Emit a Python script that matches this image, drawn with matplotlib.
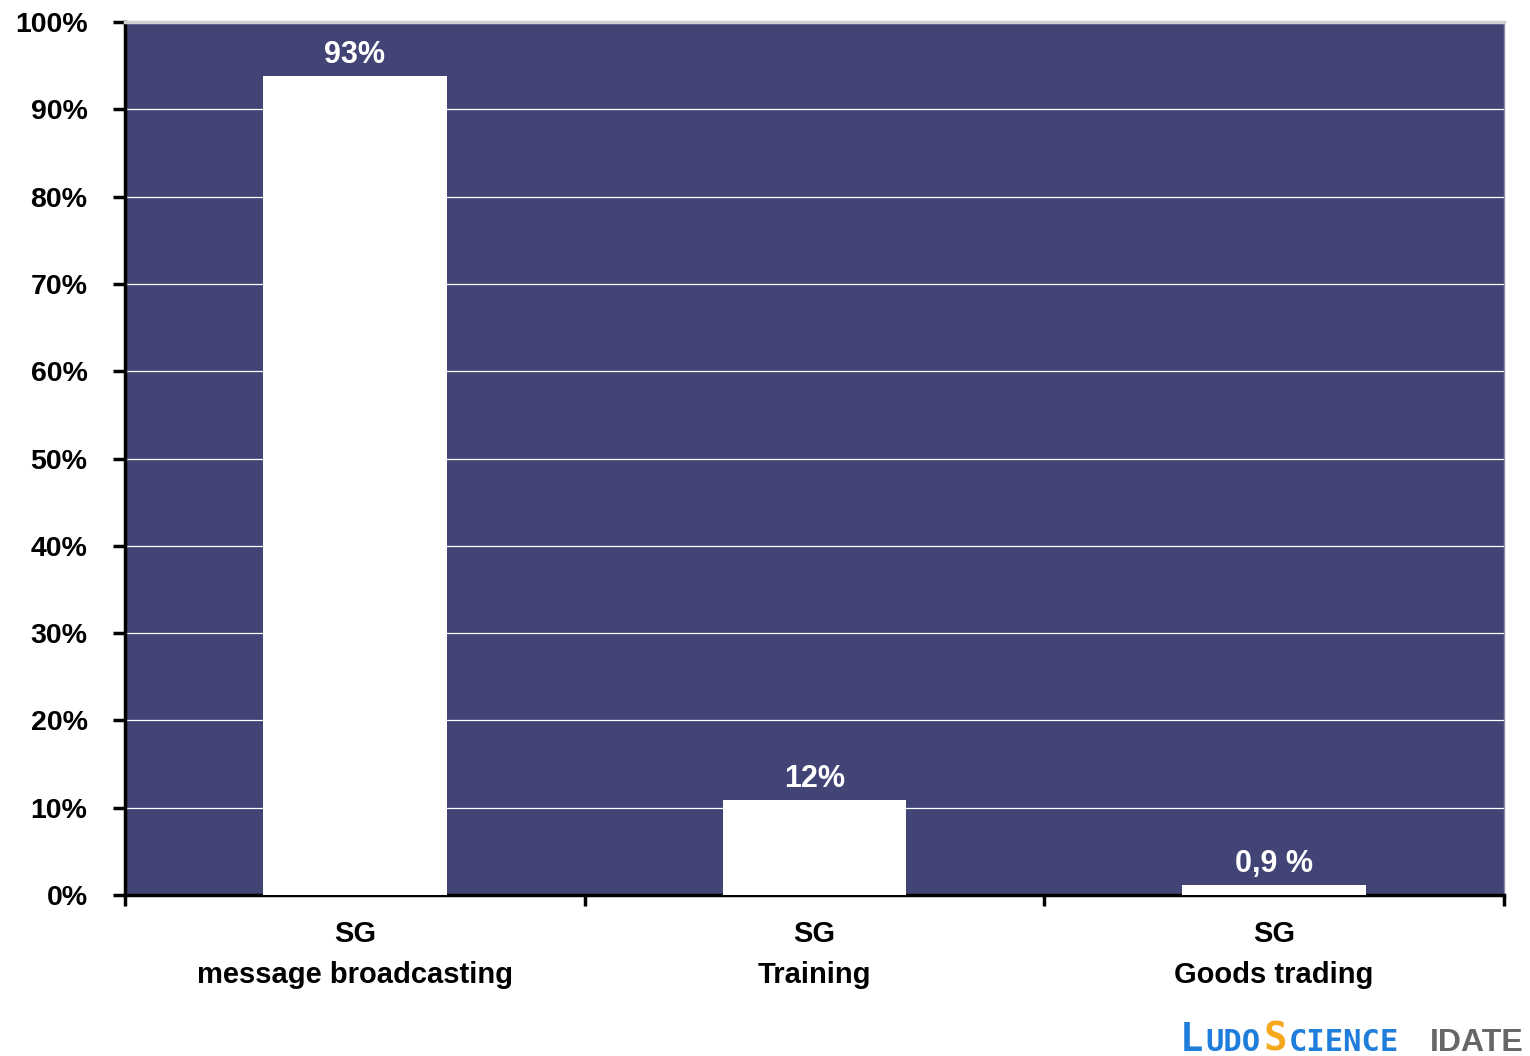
import matplotlib
matplotlib.use("Agg")
import matplotlib.pyplot as plt

plt.rcParams['font.family'] = ['Liberation Sans', 'DejaVu Sans']
plt.rcParams['font.weight'] = 'bold'

categories = ["SG\nmessage broadcasting", "SG\nTraining", "SG\nGoods trading"]
values = [93.8, 10.9, 1.1]
value_labels = ["93%", "12%", "0,9 %"]
yticks = [0, 10, 20, 30, 40, 50, 60, 70, 80, 90, 100]

fig = plt.figure(figsize=(15.3, 10.56), dpi=100)
ax = fig.add_axes([0.0817, 0.1525, 0.9013, 0.8265])
ax.set_facecolor('#414475')

x = list(range(len(categories)))
bars = ax.bar(x, values, width=0.4, color='white', zorder=3)

ax.set_xlim(-0.5, len(categories) - 0.5)
ax.set_ylim(0, 100)
ax.set_yticks(yticks)
ax.set_yticklabels([f"{t}%" for t in yticks], fontsize=20.5, fontweight='bold')
ax.yaxis.grid(True, color='white', linewidth=0.9, zorder=1)
ax.set_axisbelow(True)

# category ticks sit between the bars
ax.set_xticks([i - 0.5 for i in range(len(categories) + 1)])
ax.set_xticklabels([])
ax.set_xticks(x, minor=True)
ax.set_xticklabels(categories, minor=True, fontsize=21, fontweight='bold',
                   linespacing=1.6)
ax.tick_params(axis='x', which='minor', length=0, pad=18)
ax.tick_params(axis='x', which='major', length=8, width=2.5, direction='out')
ax.tick_params(axis='y', length=9, width=2.5, pad=18)

for s in ['left', 'bottom']:
    ax.spines[s].set_linewidth(2.5)
    ax.spines[s].set_color('black')
ax.spines['top'].set_color('#d0d0d0')
ax.spines['top'].set_linewidth(2.5)
ax.spines['right'].set_color('#8a8cab')
ax.spines['right'].set_linewidth(1)

for b, lab in zip(bars, value_labels):
    ax.text(b.get_x() + b.get_width() / 2, b.get_height() + 0.7, lab,
            ha='center', va='bottom', color='white', fontsize=22,
            fontweight='bold', zorder=4)

# logo
logo = dict(fontweight='bold', family='DejaVu Sans Mono', va='baseline', ha='left')
fig.text(0.771, 0.005, "L", color='#1f7ddb', fontsize=28, **logo)
fig.text(0.7876, 0.005, "UDO", color='#1f7ddb', fontsize=22, **logo)
fig.text(0.8255, 0.005, "S", color='#f5a81c', fontsize=28, **logo)
fig.text(0.8425, 0.005, "CIENCE", color='#1f7ddb', fontsize=22, **logo)
fig.text(0.9346, 0.005, "IDATE", color='#666666', fontsize=23,
         fontweight='bold', family='Liberation Sans', va='baseline', ha='left')

fig.savefig("out.png", dpi=100)
